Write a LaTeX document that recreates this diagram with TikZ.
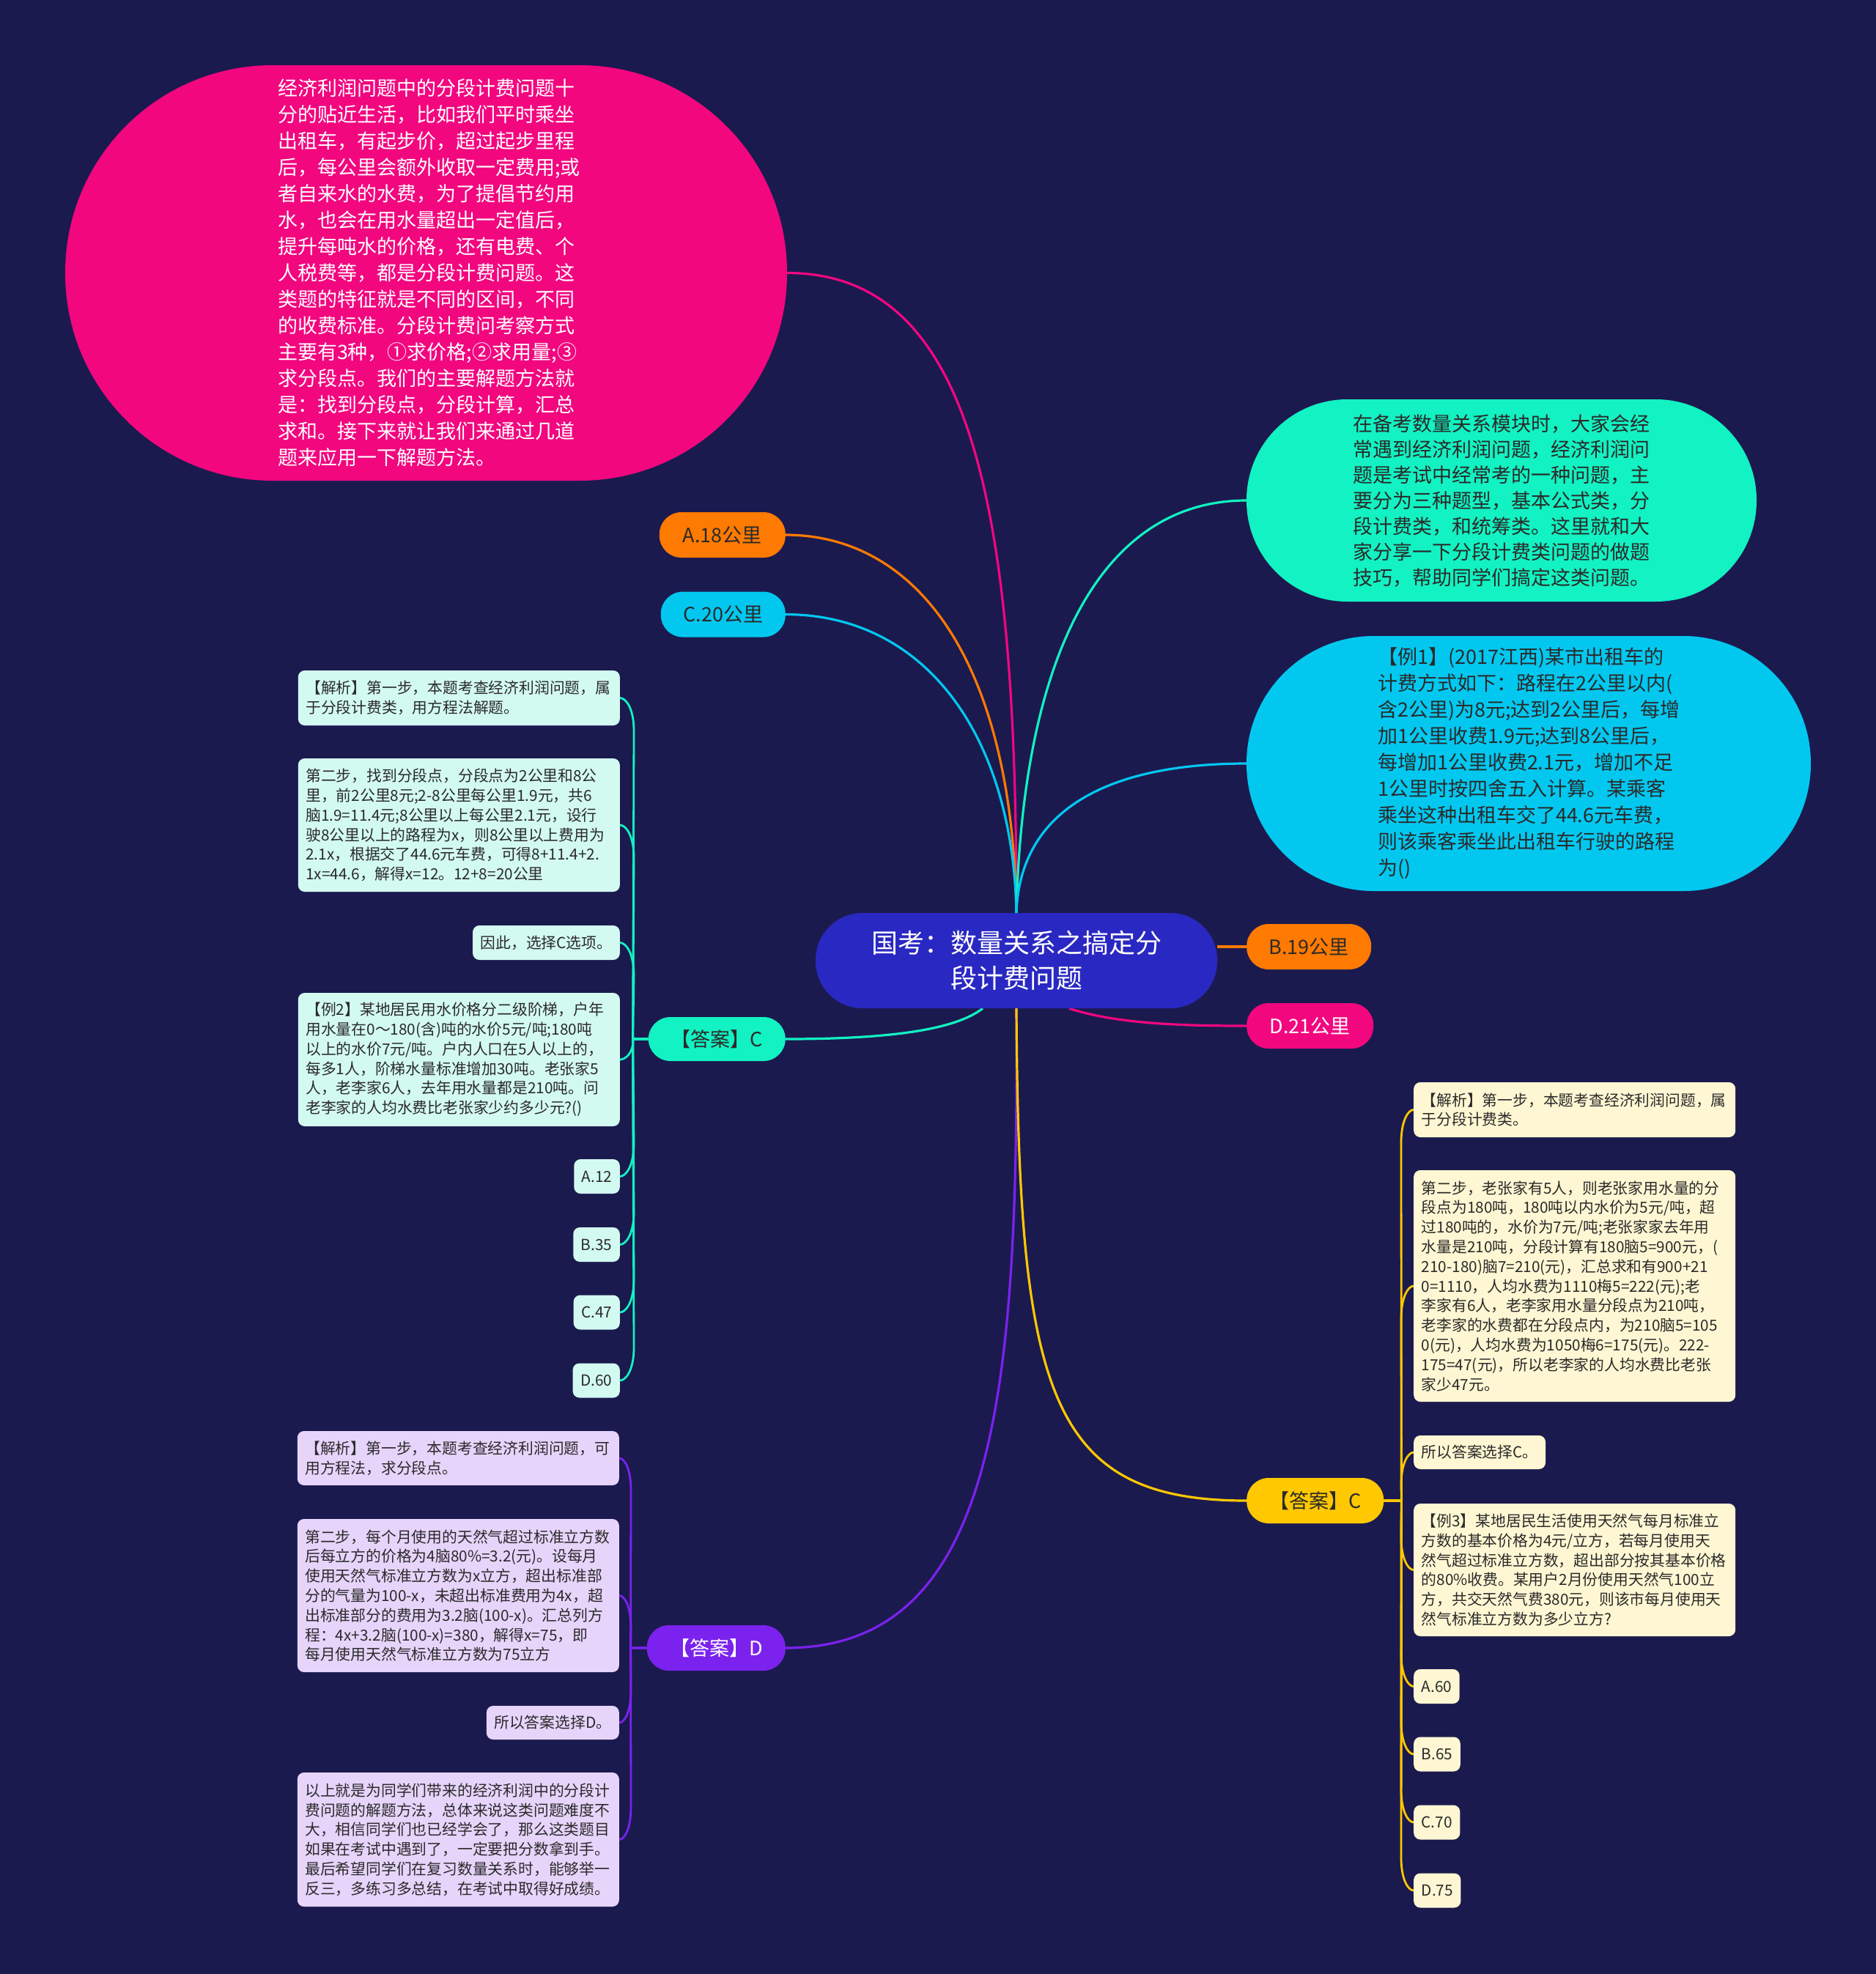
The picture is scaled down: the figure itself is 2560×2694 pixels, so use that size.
\documentclass[tikz,border=0pt]{standalone}
\usepackage{fontspec}
\setmainfont{Noto Sans CJK SC}
\usetikzlibrary{backgrounds,calc}
\definecolor{bgc}{HTML}{1B1A4F}
\definecolor{ctrc}{HTML}{2A28C2}
\definecolor{pinkc}{HTML}{F2077F}
\definecolor{greenc}{HTML}{12F2C2}
\definecolor{cyanc}{HTML}{02C8F0}
\definecolor{orangec}{HTML}{FF7A00}
\definecolor{purplec}{HTML}{7B22EE}
\definecolor{yellowc}{HTML}{FFC800}
\definecolor{mintleaf}{HTML}{D3FAF1}
\definecolor{yellowleaf}{HTML}{FFF7D3}
\definecolor{purpleleaf}{HTML}{E7D4FB}
\definecolor{darktxt}{HTML}{2A2A2A}
\newcommand\fsz[2]{\fontsize{#1}{#2}\selectfont}
\tikzset{
  ctrnode/.style={fill=ctrc, text=white, rounded corners=64pt, minimum width=548pt, minimum height=130pt, align=center, inner sep=0pt, font=\fsz{36}{48}},
  bignode/.style={align=left, inner sep=0pt, text=darktxt, font=\fsz{27}{36}},
  pill/.style={rounded corners=30pt, minimum height=62pt, inner sep=0pt, text=darktxt, font=\fsz{27}{32}},
  leafbox/.style={rounded corners=9pt, align=left, inner xsep=10.5pt, inner ysep=3pt, text=darktxt, font=\fsz{20.8}{26.8}},
  wide/.style={text width=418pt},
  mainline/.style={line width=3.2pt},
  leafline/.style={line width=2.8pt},
}
\begin{document}
\begin{tikzpicture}[x=1pt,y=-1pt]
\useasboundingbox (0,0) rectangle (2560,2694);

% central
\node[ctrnode] (ctr) at (1387,1311) {国考：数量关系之搞定分\\段计费问题};

% big stadium nodes
\node[bignode, fill=pinkc, text=white, minimum width=985pt, minimum height=567pt, rounded corners=283pt, text width=405pt] (pinkn) at (581.5,372.5) {经济利润问题中的分段计费问题十\\分的贴近生活，比如我们平时乘坐\\出租车，有起步价，超过起步里程\\后，每公里会额外收取一定费用;或\\者自来水的水费，为了提倡节约用\\水，也会在用水量超出一定值后，\\提升每吨水的价格，还有电费、个\\人税费等，都是分段计费问题。这\\类题的特征就是不同的区间，不同\\的收费标准。分段计费问考察方式\\主要有3种，①求价格;②求用量;③\\求分段点。我们的主要解题方法就\\是：找到分段点，分段计算，汇总\\求和。接下来就让我们来通过几道\\题来应用一下解题方法。};

\node[bignode, fill=greenc, font=\fsz{27}{35}, minimum width=696pt, minimum height=276pt, rounded corners=137.5pt, text width=405pt] (greenn) at (2049,683) {在备考数量关系模块时，大家会经\\常遇到经济利润问题，经济利润问\\题是考试中经常考的一种问题，主\\要分为三种题型，基本公式类，分\\段计费类，和统筹类。这里就和大\\家分享一下分段计费类问题的做题\\技巧，帮助同学们搞定这类问题。};

\node[bignode, fill=cyanc, minimum width=770pt, minimum height=348pt, rounded corners=173.5pt, text width=412pt] (cyann) at (2086,1042) {【例1】(2017江西)某市出租车的\\计费方式如下：路程在2公里以内(\\含2公里)为8元;达到2公里后，每增\\加1公里收费1.9元;达到8公里后，\\每增加1公里收费2.1元，增加不足\\1公里时按四舍五入计算。某乘客\\乘坐这种出租车交了44.6元车费，\\则该乘客乘坐此出租车行驶的路程\\为()};

% pills
\node[pill, fill=orangec, anchor=east, minimum width=172pt] (a18) at (1072,730) {A.18公里};
\node[pill, fill=cyanc, anchor=east, minimum width=170pt] (c20) at (1072,838.5) {C.20公里};
\node[pill, fill=orangec, anchor=west, minimum width=170pt] (b19) at (1701,1292) {B.19公里};
\node[pill, fill=pinkc, text=white, anchor=west, minimum width=173pt] (d21) at (1701,1400) {D.21公里};
\node[pill, fill=greenc, anchor=east, minimum width=187pt, minimum height=60pt] (ansCL) at (1072,1418) {【答案】C};
\node[pill, fill=purplec, text=white, anchor=east, minimum width=189pt] (ansD) at (1072,2249) {【答案】D};
\node[pill, fill=yellowc, anchor=west, minimum width=187pt] (ansCR) at (1701,2048) {【答案】C};

% left mint leaves
\node[leafbox, wide, fill=mintleaf, anchor=east, minimum height=75pt] (m1) at (846,952.5) {【解析】第一步，本题考查经济利润问题，属\\于分段计费类，用方程法解题。};
\node[leafbox, wide, fill=mintleaf, anchor=east, minimum height=182pt] (m2) at (846,1126) {第二步，找到分段点，分段点为2公里和8公\\里，前2公里8元;2-8公里每公里1.9元，共6\\脑1.9=11.4元;8公里以上每公里2.1元，设行\\驶8公里以上的路程为x，则8公里以上费用为\\2.1x，根据交了44.6元车费，可得8+11.4+2.\\1x=44.6，解得x=12。12+8=20公里};
\node[leafbox, fill=mintleaf, anchor=east, minimum height=47pt] (m3) at (846,1286.5) {因此，选择C选项。};
\node[leafbox, wide, fill=mintleaf, anchor=east, minimum height=182pt] (m4) at (846,1446) {【例2】某地居民用水价格分二级阶梯，户年\\用水量在0～180(含)吨的水价5元/吨;180吨\\以上的水价7元/吨。户内人口在5人以上的，\\每多1人，阶梯水量标准增加30吨。老张家5\\人，老李家6人，去年用水量都是210吨。问\\老李家的人均水费比老张家少约多少元?()};
\node[leafbox, fill=mintleaf, anchor=east, minimum height=47pt] (m5) at (846,1605.5) {A.12};
\node[leafbox, fill=mintleaf, anchor=east, minimum height=47pt] (m6) at (846,1698.5) {B.35};
\node[leafbox, fill=mintleaf, anchor=east, minimum height=47pt] (m7) at (846,1791) {C.47};
\node[leafbox, fill=mintleaf, anchor=east, minimum height=47pt] (m8) at (846,1884) {D.60};

% right yellow leaves
\node[leafbox, wide, fill=yellowleaf, anchor=west, minimum height=75pt] (y1) at (1929,1514.5) {【解析】第一步，本题考查经济利润问题，属\\于分段计费类。};
\node[leafbox, wide, fill=yellowleaf, anchor=west, minimum height=316pt] (y2) at (1929,1755) {第二步，老张家有5人，则老张家用水量的分\\段点为180吨，180吨以内水价为5元/吨，超\\过180吨的，水价为7元/吨;老张家家去年用\\水量是210吨，分段计算有180脑5=900元，(\\210-180)脑7=210(元)，汇总求和有900+21\\0=1110，人均水费为1110梅5=222(元);老\\李家有6人，老李家用水量分段点为210吨，\\老李家的水费都在分段点内，为210脑5=105\\0(元)，人均水费为1050梅6=175(元)。222-\\175=47(元)，所以老李家的人均水费比老张\\家少47元。};
\node[leafbox, fill=yellowleaf, anchor=west, minimum height=46pt] (y3) at (1929,1982) {所以答案选择C。};
\node[leafbox, wide, fill=yellowleaf, anchor=west, minimum height=181pt] (y4) at (1929,2142.5) {【例3】某地居民生活使用天然气每月标准立\\方数的基本价格为4元/立方，若每月使用天\\然气超过标准立方数，超出部分按其基本价格\\的80\%收费。某用户2月份使用天然气100立\\方，共交天然气费380元，则该市每月使用天\\然气标准立方数为多少立方?};
\node[leafbox, fill=yellowleaf, anchor=west, minimum height=47pt] (y5) at (1929,2301.5) {A.60};
\node[leafbox, fill=yellowleaf, anchor=west, minimum height=47pt] (y6) at (1929,2394) {B.65};
\node[leafbox, fill=yellowleaf, anchor=west, minimum height=47pt] (y7) at (1929,2487) {C.70};
\node[leafbox, fill=yellowleaf, anchor=west, minimum height=47pt] (y8) at (1929,2580) {D.75};

% left purple leaves
\node[leafbox, wide, fill=purpleleaf, anchor=east, minimum height=74pt] (p1) at (845,1990) {【解析】第一步，本题考查经济利润问题，可\\用方程法，求分段点。};
\node[leafbox, wide, fill=purpleleaf, anchor=east, minimum height=209pt] (p2) at (845,2177.5) {第二步，每个月使用的天然气超过标准立方数\\后每立方的价格为4脑80\%=3.2(元)。设每月\\使用天然气标准立方数为x立方，超出标准部\\分的气量为100-x，未超出标准费用为4x，超\\出标准部分的费用为3.2脑(100-x)。汇总列方\\程：4x+3.2脑(100-x)=380，解得x=75，即\\每月使用天然气标准立方数为75立方};
\node[leafbox, fill=purpleleaf, anchor=east, minimum height=46pt] (p3) at (845,2351) {所以答案选择D。};
\node[leafbox, wide, fill=purpleleaf, anchor=east, minimum height=183pt] (p4) at (845,2510.5) {以上就是为同学们带来的经济利润中的分段计\\费问题的解题方法，总体来说这类问题难度不\\大，相信同学们也已经学会了，那么这类题目\\如果在考试中遇到了，一定要把分数拿到手。\\最后希望同学们在复习数量关系时，能够举一\\反三，多练习多总结，在考试中取得好成绩。};

\begin{scope}[on background layer]
\fill[bgc] (0,0) rectangle (2560,2694);
% main connectors
\draw[mainline, pinkc] (ctr.north) .. controls (1387,700) and (1330,372.5) .. (pinkn.east);
\draw[mainline, orangec] (ctr.north) .. controls (1382,900) and (1250,730) .. (a18.east);
\draw[mainline, cyanc] (ctr.north) .. controls (1382,1000) and (1260,838.5) .. (c20.east);
\draw[mainline, greenc] (ctr.north) .. controls (1395,900) and (1500,683) .. (greenn.west);
\draw[mainline, cyanc] (ctr.north) .. controls (1392,1100) and (1520,1042) .. (cyann.west);
\draw[mainline, orangec] (b19.west -| ctr.east) -- (b19.west);
\draw[mainline, pinkc] ([xshift=72pt]ctr.south) .. controls (1525,1398) and (1620,1400) .. (d21.west);
\draw[mainline, greenc] ([xshift=-46pt]ctr.south) .. controls (1300,1408) and (1200,1418) .. (ansCL.east);
\draw[mainline, purplec] (ctr.south) .. controls (1390,1900) and (1360,2249) .. (ansD.east);
\draw[mainline, yellowc] (ctr.south) .. controls (1390,1900) and (1430,2048) .. (ansCR.west);
% mint leaf connectors
\foreach \c in {m1,m2,m3}
  \draw[leafline, greenc] (ansCL.west) -- ++(-21,0) -- ($(\c.east)+(19,45)$) .. controls ($(\c.east)+(19,14)$) and ($(\c.east)+(8,0)$) .. (\c.east);
\draw[leafline, greenc] (ansCL.west) -- ++(-21,0) .. controls ($(m4.east)+(19,-10)$) and ($(m4.east)+(8,0)$) .. (m4.east);
\foreach \c in {m5,m6,m7,m8}
  \draw[leafline, greenc] (ansCL.west) -- ++(-21,0) -- ($(\c.east)+(19,-45)$) .. controls ($(\c.east)+(19,-14)$) and ($(\c.east)+(8,0)$) .. (\c.east);
% yellow leaf connectors
\foreach \c in {y1,y2,y3}
  \draw[leafline, yellowc] (ansCR.east) -- ++(24,0) -- ($(\c.west)+(-17,45)$) .. controls ($(\c.west)+(-17,14)$) and ($(\c.west)+(-7,0)$) .. (\c.west);
\foreach \c in {y4,y5,y6,y7,y8}
  \draw[leafline, yellowc] (ansCR.east) -- ++(24,0) -- ($(\c.west)+(-17,-45)$) .. controls ($(\c.west)+(-17,-14)$) and ($(\c.west)+(-7,0)$) .. (\c.west);
% purple leaf connectors
\foreach \c in {p1,p2}
  \draw[leafline, purplec] (ansD.west) -- ++(-22,0) -- ($(\c.east)+(16,45)$) .. controls ($(\c.east)+(16,14)$) and ($(\c.east)+(7,0)$) .. (\c.east);
\foreach \c in {p3,p4}
  \draw[leafline, purplec] (ansD.west) -- ++(-22,0) -- ($(\c.east)+(16,-45)$) .. controls ($(\c.east)+(16,-14)$) and ($(\c.east)+(7,0)$) .. (\c.east);
\end{scope}
\end{tikzpicture}
\end{document}
